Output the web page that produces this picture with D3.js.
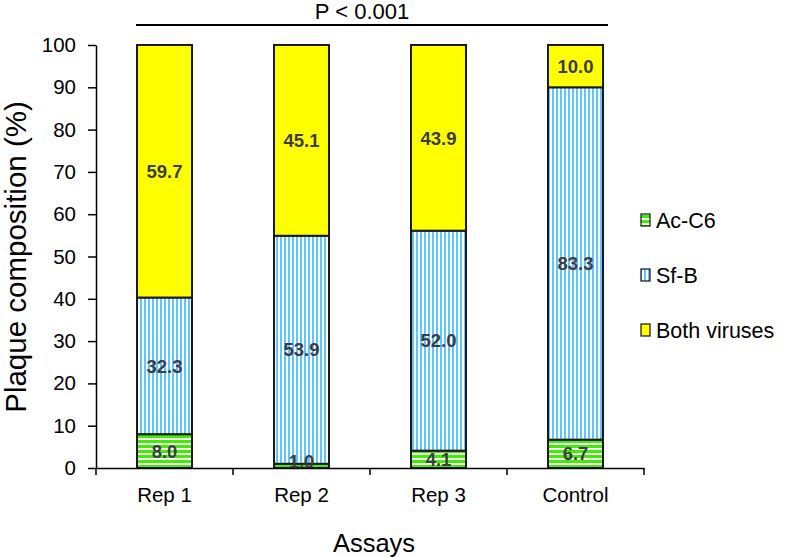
<!DOCTYPE html>
<html><head><meta charset="utf-8">
<script src="https://cdn.jsdelivr.net/npm/d3@7"></script>
<style>body{margin:0;background:#fff}svg{display:block}text{font-family:"Liberation Sans",Arial,sans-serif}</style>
</head><body>
<script>
const categories = ["Rep 1","Rep 2","Rep 3","Control"];
const seriesNames = ["Ac-C6","Sf-B","Both viruses"];
const acC6 = [8.0, 1.0, 4.1, 6.7];
const sfB = [32.3, 53.9, 52.0, 83.3];
const both = [59.7, 45.1, 43.9, 10.0];
const yTicks = [0,10,20,30,40,50,60,70,80,90,100];

const W=800,H=557;
const FF="Liberation Sans, Arial, sans-serif";
const svg=d3.select("body").append("svg").attr("width",W).attr("height",H);
const defs=svg.append("defs");
const pg=defs.append("pattern").attr("id","pGreen").attr("patternUnits","userSpaceOnUse").attr("width",8).attr("height",5);
pg.append("rect").attr("width",8).attr("height",5).attr("fill","#fff");
pg.append("rect").attr("width",8).attr("height",3).attr("fill","#3cf000");
const pb=defs.append("pattern").attr("id","pBlue").attr("patternUnits","userSpaceOnUse").attr("width",4).attr("height",8);
pb.append("rect").attr("width",4).attr("height",8).attr("fill","#fff");
pb.append("rect").attr("width",2).attr("height",8).attr("fill","#5ec6ff");

const fills=["url(#pGreen)","url(#pBlue)","#ffff00"];
const x0=96,x1=644,yTop=45,yBot=468;
const x=d3.scaleBand().domain(categories).range([x0,x1]).paddingInner(0).paddingOuter(0);
const y=d3.scaleLinear().domain([0,100]).range([yBot,yTop]);

const rows=categories.map((c,i)=>({cat:c,vals:[acC6[i],sfB[i],both[i]]}));
const stack=[];
rows.forEach(r=>{let cum=0;r.vals.forEach((v,k)=>{stack.push({cat:r.cat,k,v,y0:cum,y1:cum+v});cum+=v;});});
const bw=55;
const g=svg.append("g");
g.selectAll("rect.seg").data(stack).join("rect").attr("class","seg")
 .attr("x",d=>x(d.cat)+x.bandwidth()/2-bw/2).attr("width",bw)
 .attr("y",d=>y(d.y1)).attr("height",d=>y(d.y0)-y(d.y1))
 .attr("fill",d=>fills[d.k]).attr("stroke","#1a1a1a").attr("stroke-width",2);
g.selectAll("text.val").data(stack).join("text").attr("class","val")
 .attr("x",d=>x(d.cat)+x.bandwidth()/2).attr("y",d=>Math.min(y((d.y0+d.y1)/2),yBot-7))
 .attr("dy","0.36em").attr("text-anchor","middle").attr("font-size",18.5).attr("font-weight","bold").attr("fill","#3c3c46")
 .text(d=>d.v.toFixed(1));

// y axis
const ya=svg.append("g").attr("transform",`translate(${x0},0)`)
 .call(d3.axisLeft(y).tickValues(yTicks).tickSize(8).tickSizeOuter(0));
ya.select(".domain").attr("stroke","#000").attr("stroke-width",1.5);
ya.selectAll(".tick line").attr("stroke","#000").attr("stroke-width",1.5);
ya.selectAll(".tick text").attr("font-size",20.5).attr("fill","#000").attr("x",-20).attr("font-family",FF);
// x axis
const xa=svg.append("g").attr("transform",`translate(0,${yBot})`)
 .call(d3.axisBottom(x).tickSize(0).tickSizeOuter(0));
xa.select(".domain").attr("stroke","#000").attr("stroke-width",1.5);
xa.selectAll(".tick text").attr("font-size",20.5).attr("fill","#000").attr("y",34).attr("dy",0).attr("font-family",FF);
const bounds=categories.map(c=>x(c)+x.bandwidth()).concat([x0]);
svg.append("g").selectAll("line").data(bounds).join("line")
 .attr("x1",d=>d).attr("x2",d=>d).attr("y1",yBot).attr("y2",yBot+7).attr("stroke","#000").attr("stroke-width",1.5);

// titles
svg.append("text").attr("transform",`translate(26,${257}) rotate(-90)`).attr("text-anchor","middle")
 .attr("font-size",29.5).text("Plaque composition (%)");
svg.append("text").attr("x",374).attr("y",552).attr("text-anchor","middle").attr("font-size",25.5).text("Assays");

// significance
svg.append("line").attr("x1",x(categories[0])+x.bandwidth()/2-bw/2-1).attr("x2",x(categories[3])+x.bandwidth()/2+bw/2+5)
 .attr("y1",25).attr("y2",25).attr("stroke","#000").attr("stroke-width",2);
svg.append("text").attr("x",362).attr("y",19).attr("text-anchor","middle").attr("font-size",22).text("P < 0.001");

// legend
const lg=svg.append("g");
seriesNames.forEach((n,i)=>{
 const yy=220+i*55;
 lg.append("rect").attr("x",641).attr("y",yy-6).attr("width",9).attr("height",12).attr("fill",fills[i]).attr("stroke","#111").attr("stroke-width",1.2);
 lg.append("text").attr("x",656).attr("y",yy).attr("dy","0.36em").attr("font-size",21.5).text(n);
});
</script>
</body></html>
